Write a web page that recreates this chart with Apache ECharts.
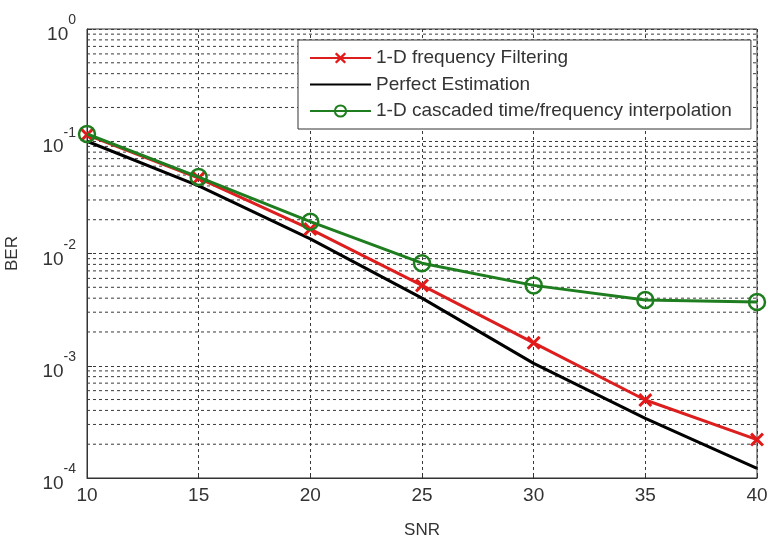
<!DOCTYPE html>
<html><head><meta charset="utf-8">
<script src="https://cdn.jsdelivr.net/npm/echarts@6/dist/echarts.min.js"></script>
<style>html,body{margin:0;padding:0;background:#fff}#c{width:768px;height:545px}</style>
</head><body><div id="c"></div>
<script>
var snr = [10, 15, 20, 25, 30, 35, 40];
var berFreqFilter = [0.114, 0.047, 0.0165, 0.0052, 0.0016, 0.000495, 0.00022];
var berPerfect = [0.1, 0.04, 0.0135, 0.004, 0.00105, 0.00034, 0.000122];
var berCascaded = [0.116, 0.048, 0.0192, 0.0082, 0.0052, 0.00385, 0.0037];
var seriesNames = ['1-D frequency Filtering', 'Perfect Estimation', '1-D cascaded time/frequency interpolation'];
var decades = [1e-4, 1e-3, 1e-2, 1e-1];
var minorMultipliers = [2, 3, 4, 5, 6, 7, 8, 9];

function pairs(ys) { return snr.map(function (x, i) { return [x, ys[i]]; }); }
var font = 'Liberation Sans, Arial, sans-serif';
var gridLine = { color: '#3a3a3a', width: 1, type: [3, 3] };
var xShape = 'path://M1.5,0 L5,3.5 L8.5,0 L10,1.5 L6.5,5 L10,8.5 L8.5,10 L5,6.5 L1.5,10 L0,8.5 L3.5,5 L0,1.5 Z';

var minorSeries = [];
decades.forEach(function (d) {
  minorMultipliers.forEach(function (k) {
    var v = d * k;
    minorSeries.push({
      type: 'line', silent: true, symbol: 'none', z: 1,
      data: [[snr[0], v], [snr[snr.length - 1], v]],
      lineStyle: gridLine, tooltip: { show: false }
    });
  });
});

var chart = echarts.init(document.getElementById('c'));
chart.setOption({
  backgroundColor: '#fff',
  animation: false,
  grid: { left: 87, right: 11, top: 29, bottom: 67, outerBoundsMode: 'none', containLabel: false, show: true, borderColor: '#333', borderWidth: 1, backgroundColor: 'transparent' },
  legend: {
    orient: 'vertical', left: 298, top: 40,
    padding: [8, 19, 8, 11], itemGap: 6.5, itemWidth: 61, itemHeight: 14,
    backgroundColor: '#fff', borderColor: '#333', borderWidth: 1,
    textStyle: { fontFamily: font, fontSize: 19, lineHeight: 20, color: '#333' },
    data: [
      { name: seriesNames[0] },
      { name: seriesNames[1], itemStyle: { opacity: 0 } },
      { name: seriesNames[2] }
    ]
  },
  xAxis: {
    type: 'value', min: 10, max: 40, interval: 5,
    name: 'SNR', nameLocation: 'middle', nameGap: 44,
    nameTextStyle: { fontFamily: font, fontSize: 17, color: '#333' },
    axisLine: { show: true, lineStyle: { color: '#333' } },
    axisTick: { show: true, inside: true, length: 5, lineStyle: { color: '#333' } },
    axisLabel: { fontFamily: font, fontSize: 19, color: '#333', margin: 8 },
    splitLine: { show: true, lineStyle: gridLine }
  },
  yAxis: {
    type: 'log', logBase: 10, min: 1e-4, max: 1,
    name: 'BER', nameLocation: 'middle', nameGap: 66, nameRotate: 90,
    nameTextStyle: { fontFamily: font, fontSize: 17, color: '#333' },
    axisLine: { show: true, lineStyle: { color: '#333' } },
    axisTick: { show: true, inside: true, length: 5, lineStyle: { color: '#333' } },
    axisLabel: {
      margin: 11, color: '#333',
      formatter: function (v) { var e = Math.round(Math.log10(v)); return '{b|10}{e|' + e + '}'; },
      rich: {
        b: { fontFamily: font, fontSize: 19, color: '#333', padding: [12, 0, 0, 0] },
        e: { fontFamily: font, fontSize: 14, color: '#333', verticalAlign: 'top' }
      }
    },
    splitLine: { show: true, lineStyle: gridLine }
  },
  series: [
    {
      name: seriesNames[0], type: 'line', data: pairs(berFreqFilter),
      symbol: xShape, symbolSize: 14, z: 4,
      lineStyle: { color: '#dc1e1e', width: 3 },
      itemStyle: { color: '#e41a1a' }
    },
    {
      name: seriesNames[1], type: 'line', data: pairs(berPerfect),
      symbol: 'none', z: 3,
      lineStyle: { color: '#000', width: 3 },
      itemStyle: { color: '#000' }
    },
    {
      name: seriesNames[2], type: 'line', data: pairs(berCascaded),
      symbol: 'circle', symbolSize: 16, z: 5,
      lineStyle: { color: '#1e7d1e', width: 3 },
      itemStyle: { color: 'rgba(0,0,0,0)', borderColor: '#1e7d1e', borderWidth: 2.5 }
    }
  ].concat(minorSeries)
});
</script></body></html>
